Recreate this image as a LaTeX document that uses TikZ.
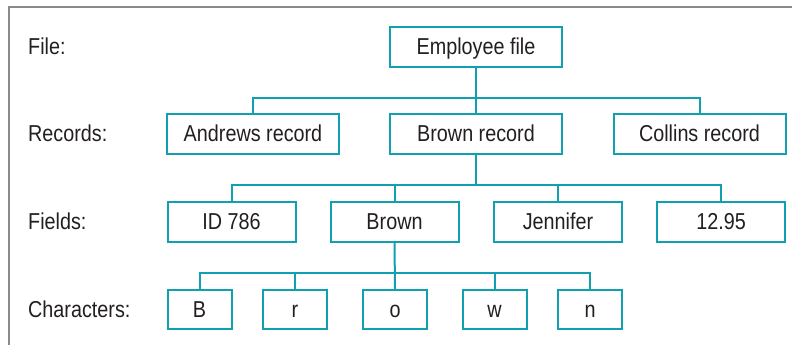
\documentclass[tikz,border=0pt]{standalone}
\usepackage{fontspec}
\setmainfont{Liberation Sans}[FakeStretch=0.86]
\definecolor{teal1}{RGB}{16,160,176}
\definecolor{txt}{RGB}{35,31,32}
\definecolor{frame}{RGB}{138,138,140}
\begin{document}
\begin{tikzpicture}[x=1pt,y=-1pt,
  font=\fontsize{23}{27}\selectfont,
  box/.style={draw=teal1,line width=2pt,fill=white,text=txt,inner sep=0pt,
    minimum height=40pt,text height=16.5pt,text depth=1pt},
  wide/.style={box,minimum width=172pt},
  mid/.style={box,minimum width=128pt},
  small/.style={box,minimum width=64pt,minimum height=39pt},
  lab/.style={anchor=west,text=txt,inner sep=0pt,text height=16.5pt,text depth=1pt},
  conn/.style={draw=teal1,line width=2pt}]
\useasboundingbox (0,0) rectangle (792,345);
% frame
\draw[frame,line width=2pt] (8.7,400) -- (8.7,7) -- (900,7);
% labels
\node[lab] (lfile) at (28,47) {File:};
\node[lab] (lrec) at (28,134) {Records:};
\node[lab] (lfld) at (28,222) {Fields:};
\node[lab] (lchr) at (28,310) {Characters:};
% bus coordinates
\coordinate (bus1) at (476,98);
\coordinate (bus2) at (476,185);
\coordinate (bus3) at (395,273);
% boxes
\node[wide] (emp) at (476,47) {Employee file};
\node[wide] (andrews) at (253,134) {Andrews record};
\node[wide] (brownrec) at (476,134) {Brown record};
\node[wide] (collins) at (699.5,134) {Collins record};
\node[mid] (id) at (231.5,222) {ID 786};
\node[mid] (brownf) at (394.5,222) {Brown};
\node[mid] (jen) at (558,222) {Jennifer};
\node[mid] (pay) at (721,222) {12.95};
\node[small] (cB) at (199.5,309.5) {B};
\node[small] (cr) at (295,309.5) {r};
\node[small] (co) at (395,309.5) {o};
\node[small] (cw) at (494.5,309.5) {w};
\node[small] (cn) at (590,309.5) {n};
% level 1
\draw[conn] (emp.south) -- (brownrec.north);
\draw[conn] (andrews.north) -- (andrews.north |- bus1) -- (collins.north |- bus1) -- (collins.north);
% level 2
\draw[conn] (brownrec.south) -- (brownrec.south |- bus2);
\draw[conn] (id.north) -- (id.north |- bus2) -- (pay.north |- bus2) -- (pay.north);
\draw[conn] (brownf.north) -- (brownf.north |- bus2);
\draw[conn] (jen.north) -- (jen.north |- bus2);
% level 3
\draw[conn] (brownf.south) -- (co.north);
\draw[conn] (cB.north) -- (cB.north |- bus3) -- (cn.north |- bus3) -- (cn.north);
\draw[conn] (cr.north) -- (cr.north |- bus3);
\draw[conn] (cw.north) -- (cw.north |- bus3);
\end{tikzpicture}
\end{document}
